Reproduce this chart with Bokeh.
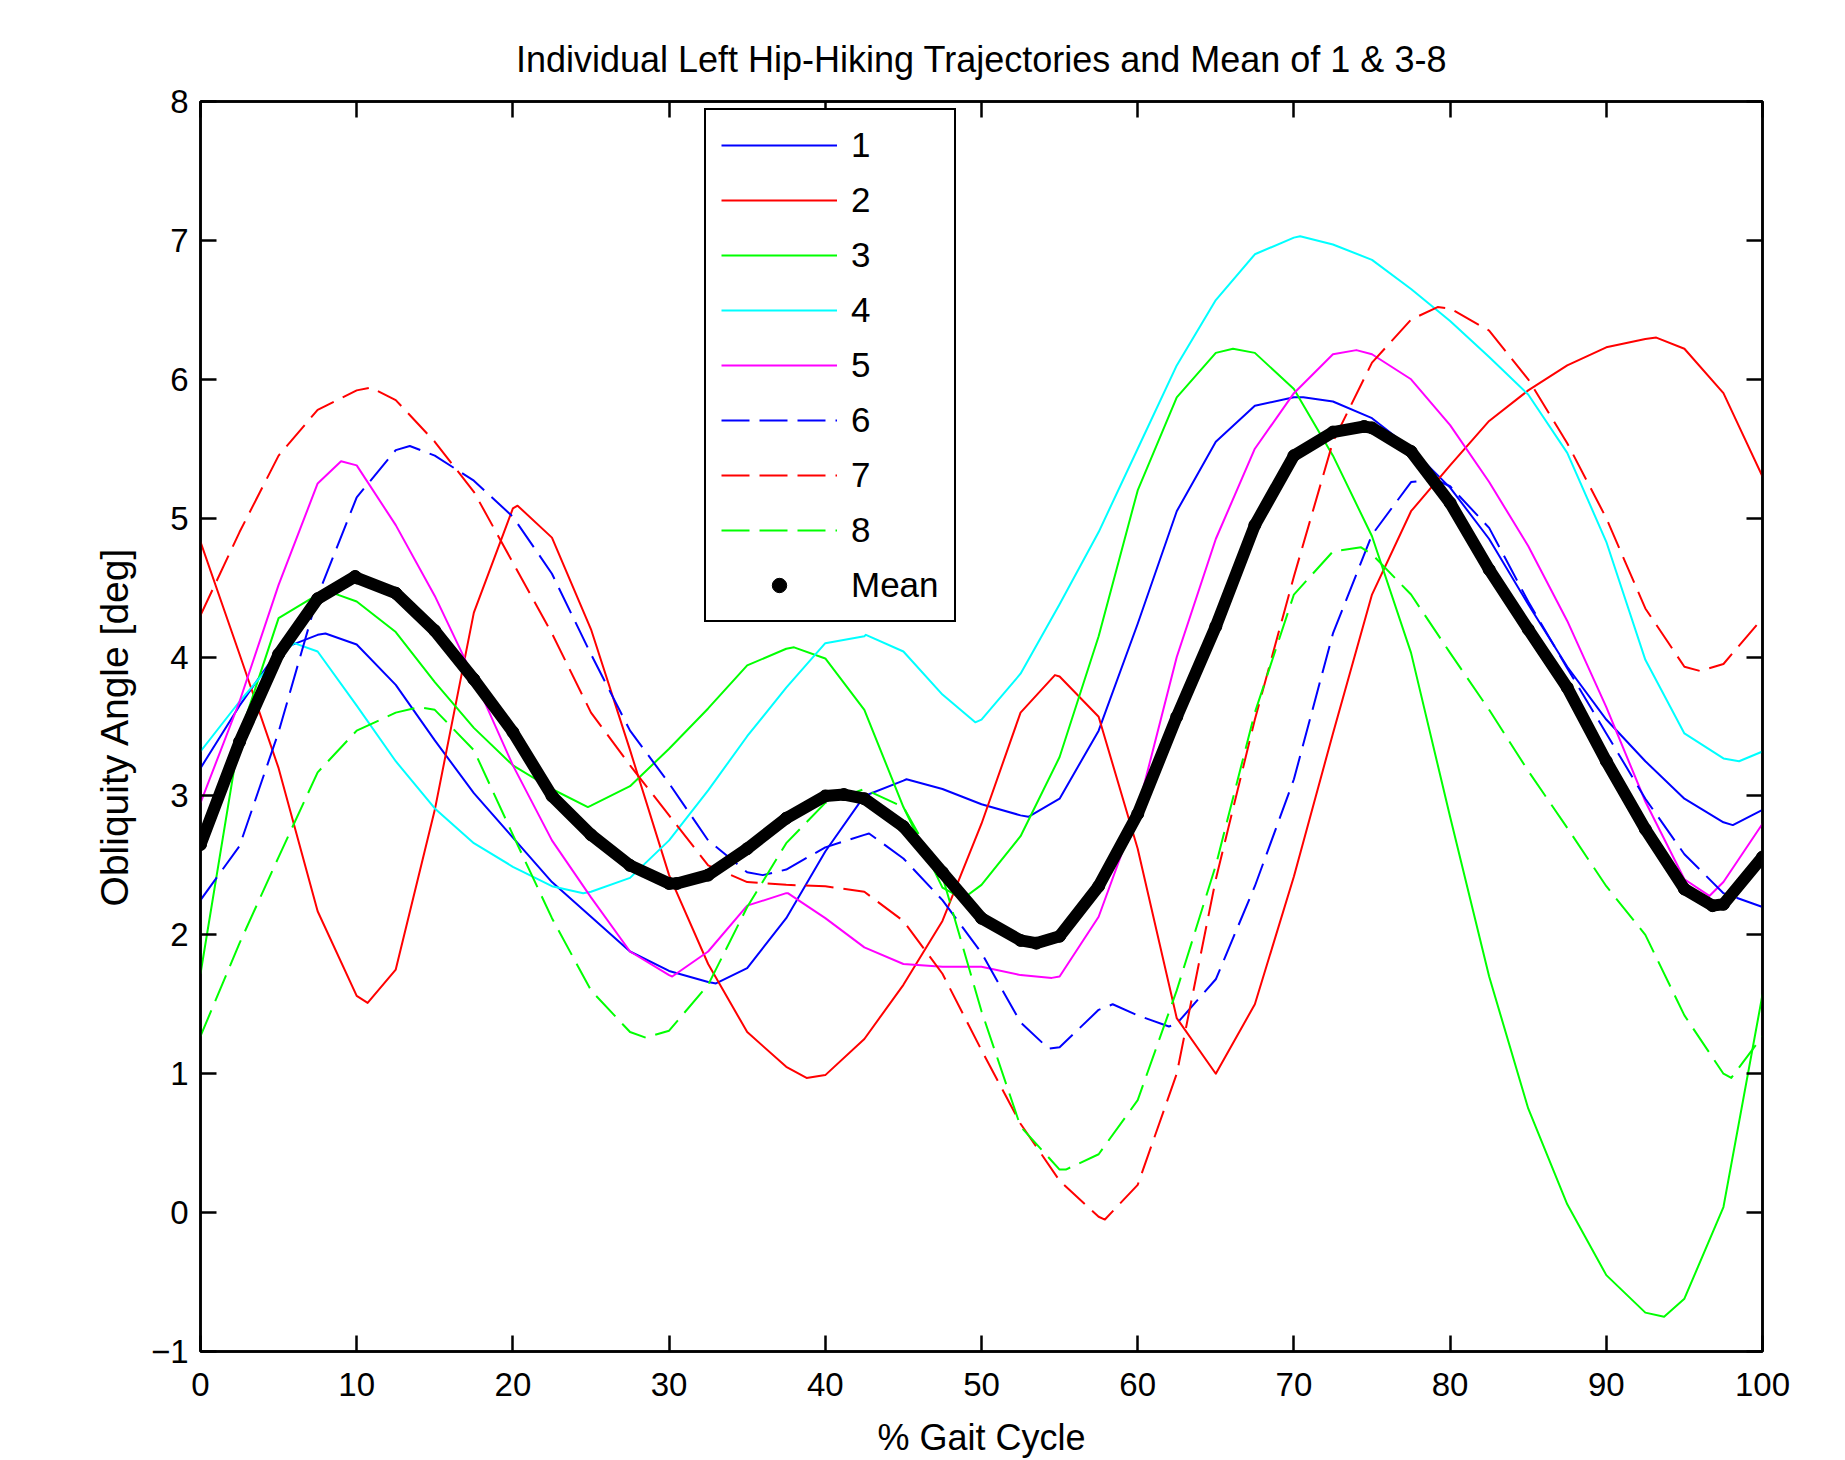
from bokeh.plotting import figure
from bokeh.models import Range1d, LinearAxis, FixedTicker, ColumnDataSource, Legend, LegendItem
from bokeh.embed import file_html
from bokeh.resources import INLINE

# % gait cycle sample positions (common grid)
gait = [0, 2.5, 5, 7.5, 10, 12.5, 15, 17.5, 20, 22.5, 25, 27.5, 30, 32.5, 35, 37.5,
        40, 42.5, 45, 47.5, 50, 52.5, 55, 57.5, 60, 62.5, 65, 67.5, 70, 72.5, 75, 77.5,
        80, 82.5, 85, 87.5, 90, 92.5, 95, 97.5, 100]

subj1 = [3.2, 3.65, 4.05, 4.16, 4.09, 3.8, 3.4, 3.02, 2.7, 2.38, 2.13, 1.88, 1.74, 1.66, 1.76, 2.12,
         2.6, 3.0, 3.11, 3.05, 2.94, 2.86, 2.98, 3.47, 4.24, 5.05, 5.55, 5.81, 5.87, 5.84, 5.72, 5.5,
         5.22, 4.85, 4.38, 3.93, 3.55, 3.25, 2.98, 2.81, 2.9]
subj2 = [4.83, 4.02, 3.2, 2.17, 1.56, 1.75, 2.9, 4.32, 5.07, 4.86, 4.2, 3.33, 2.43, 1.79, 1.3, 1.05,
         0.99, 1.25, 1.64, 2.1, 2.8, 3.6, 3.86, 3.57, 2.62, 1.4, 1.01, 1.5, 2.42, 3.45, 4.45, 5.05,
         5.38, 5.7, 5.92, 6.1, 6.23, 6.29, 6.22, 5.9, 5.3]
subj3 = [1.72, 3.43, 4.28, 4.45, 4.4, 4.18, 3.82, 3.49, 3.22, 3.05, 2.93, 3.07, 3.34, 3.63, 3.94, 4.06,
         3.99, 3.62, 2.92, 2.34, 2.36, 2.71, 3.28, 4.15, 5.2, 5.87, 6.19, 6.19, 5.93, 5.45, 4.87, 4.03,
         2.85, 1.7, 0.75, 0.06, -0.45, -0.72, -0.62, 0.04, 1.57]
subj4 = [3.32, 3.68, 4.01, 4.04, 3.65, 3.25, 2.91, 2.66, 2.49, 2.35, 2.31, 2.41, 2.68, 3.04, 3.43, 3.78,
         4.1, 4.15, 4.04, 3.73, 3.55, 3.88, 4.38, 4.9, 5.5, 6.1, 6.57, 6.9, 7.02, 6.97, 6.86, 6.65,
         6.42, 6.16, 5.89, 5.47, 4.83, 3.98, 3.45, 3.27, 3.32]
subj5 = [2.95, 3.68, 4.52, 5.25, 5.38, 4.95, 4.44, 3.85, 3.22, 2.68, 2.27, 1.88, 1.71, 1.88, 2.21, 2.3,
         2.12, 1.91, 1.79, 1.77, 1.77, 1.71, 1.7, 2.13, 2.9, 4.0, 4.85, 5.5, 5.9, 6.18, 6.18, 6.0,
         5.67, 5.26, 4.8, 4.26, 3.64, 2.96, 2.4, 2.38, 2.8]
subj6 = [2.25, 2.64, 3.46, 4.44, 5.15, 5.49, 5.45, 5.27, 5.01, 4.6, 4.02, 3.47, 3.09, 2.68, 2.45, 2.47,
         2.63, 2.72, 2.55, 2.25, 1.87, 1.37, 1.19, 1.46, 1.42, 1.36, 1.68, 2.35, 3.12, 4.17, 4.88, 5.26,
         5.23, 4.93, 4.4, 3.92, 3.45, 2.98, 2.58, 2.3, 2.2]
subj7 = [4.3, 4.9, 5.45, 5.78, 5.92, 5.85, 5.55, 5.19, 4.68, 4.17, 3.6, 3.22, 2.86, 2.5, 2.38, 2.36,
         2.35, 2.31, 2.1, 1.72, 1.17, 0.64, 0.23, -0.03, 0.2, 1.0, 2.4, 3.55, 4.58, 5.55, 6.12, 6.43,
         6.51, 6.35, 6.0, 5.54, 5.0, 4.35, 3.93, 3.95, 4.28]
subj8 = [1.27, 1.94, 2.56, 3.17, 3.47, 3.6, 3.62, 3.33, 2.72, 2.12, 1.6, 1.3, 1.31, 1.64, 2.2, 2.66,
         2.95, 3.04, 2.92, 2.42, 1.45, 0.62, 0.31, 0.42, 0.81, 1.6, 2.5, 3.6, 4.45, 4.76, 4.74, 4.45,
         4.03, 3.62, 3.18, 2.77, 2.35, 2.0, 1.42, 1.0, 1.27]
mean_curve = [2.65, 3.39, 4.02, 4.42, 4.57, 4.46, 4.19, 3.84, 3.46, 3.0, 2.72, 2.5, 2.37, 2.43, 2.62, 2.84,
              3.0, 2.98, 2.78, 2.45, 2.12, 1.96, 1.99, 2.35, 2.87, 3.57, 4.22, 4.95, 5.45, 5.62, 5.65, 5.48,
              5.11, 4.63, 4.2, 3.78, 3.25, 2.76, 2.33, 2.22, 2.56]

# extra readings taken at the turning points of each curve (x, value)
peaks1_x, peaks1_y = [8.0, 33.0, 45.2, 53.0, 70.6, 98.1], [4.17, 1.65, 3.12, 2.85, 5.87, 2.79]
peaks2_x, peaks2_y = [10.7, 20.3, 38.8, 54.7, 65.0, 93.2], [1.51, 5.09, 0.97, 3.87, 1.0, 6.3]
peaks3_x, peaks3_y = [8.5, 24.8, 38.0, 48.8, 66.1, 93.7], [4.46, 2.92, 4.07, 2.26, 6.22, -0.75]
peaks4_x, peaks4_y = [6.0, 24.5, 42.6, 49.6, 70.4, 98.5], [4.1, 2.3, 4.16, 3.53, 7.03, 3.25]
peaks5_x, peaks5_y = [9.0, 30.2, 37.6, 54.5, 74.0, 96.6], [5.41, 1.7, 2.3, 1.69, 6.21, 2.28]
peaks6_x, peaks6_y = [13.4, 36.0, 42.8, 54.3, 58.4, 62.0, 79.0], [5.52, 2.43, 2.73, 1.18, 1.5, 1.34, 5.28]
peaks7_x, peaks7_y = [10.9, 57.9, 79.2, 96.0], [5.94, -0.05, 6.52, 3.9]
peaks8_x, peaks8_y = [14.0, 28.5, 42.5, 55.4, 74.3, 98.0], [3.64, 1.26, 3.05, 0.31, 4.79, 0.97]
peaksm_x, peaksm_y = [9.9, 30.5, 41.2, 53.5, 74.5, 96.8], [4.58, 2.37, 3.01, 1.94, 5.66, 2.21]

series_names = ["1", "2", "3", "4", "5", "6", "7", "8"]
series_vals = [subj1, subj2, subj3, subj4, subj5, subj6, subj7, subj8]
series_peaks = [(peaks1_x, peaks1_y), (peaks2_x, peaks2_y), (peaks3_x, peaks3_y), (peaks4_x, peaks4_y),
                (peaks5_x, peaks5_y), (peaks6_x, peaks6_y), (peaks7_x, peaks7_y), (peaks8_x, peaks8_y)]
series_colors = ["#0000ff", "#ff0000", "#00ff00", "#00ffff", "#ff00ff", "#0000ff", "#ff0000", "#00ff00"]
series_dash = ["solid", "solid", "solid", "solid", "solid", "28 10", "28 10", "28 10"]

x_ticks = list(range(0, 101, 10))
y_ticks = list(range(-1, 9))


def merged(vals, px, py):
    """Combine the grid readings with the turning-point readings, ordered by x."""
    pts = {x: y for x, y in zip(gait, vals)}
    for x, y in zip(px, py):
        pts[x] = y
    xs = sorted(pts)
    return xs, [pts[x] for x in xs]


FONT = "Liberation Sans"
FRAME_W = 1562
FRAME_H = 1251

p = figure(width=200 + FRAME_W + 75, height=101 + FRAME_H + 108,
           output_backend="svg", toolbar_location=None,
           x_range=Range1d(0, 100), y_range=Range1d(-1, 8),
           min_border_left=200, min_border_right=75, min_border_top=101, min_border_bottom=108,
           title="Individual Left Hip-Hiking Trajectories and Mean of 1 & 3-8")
p.background_fill_color = "white"
p.border_fill_color = "white"
p.outline_line_color = "black"
p.outline_line_width = 2.5
p.xgrid.visible = False
p.ygrid.visible = False

p.title.align = "center"
p.title.text_font = FONT
p.title.text_font_size = "36px"
p.title.text_font_style = "normal"
p.title.text_color = "black"
p.title.standoff = 44


def style_axis(ax, labels=True):
    ax.axis_line_color = "black"
    ax.axis_line_width = 2.5
    ax.major_tick_line_color = "black"
    ax.major_tick_line_width = 2.5
    ax.major_tick_in = 16
    ax.major_tick_out = 0
    ax.minor_tick_line_color = None
    ax.major_label_text_font = FONT
    if labels:
        ax.major_label_text_color = "black"
        ax.major_label_text_font_size = "33px"
        ax.major_label_standoff = 12
    else:
        ax.major_label_text_color = None
        ax.major_label_text_font_size = "2px"
        ax.major_label_standoff = 0


xa = p.xaxis[0]
ya = p.yaxis[0]
xa.ticker = FixedTicker(ticks=x_ticks)
ya.ticker = FixedTicker(ticks=y_ticks)
style_axis(xa)
style_axis(ya)
xa.major_label_standoff = 21
xa.axis_label = "% Gait Cycle"
ya.axis_label = "Obliquity Angle [deg]"
for ax in (xa, ya):
    ax.axis_label_text_font = FONT
    ax.axis_label_text_font_style = "normal"
    ax.axis_label_text_color = "black"
xa.axis_label_text_font_size = "36px"
ya.axis_label_text_font_size = "39px"
xa.axis_label_standoff = 18
ya.axis_label_standoff = 12

top_ax = LinearAxis(ticker=FixedTicker(ticks=x_ticks))
right_ax = LinearAxis(ticker=FixedTicker(ticks=y_ticks))
style_axis(top_ax, labels=False)
style_axis(right_ax, labels=False)
p.add_layout(top_ax, "above")
p.add_layout(right_ax, "right")

items = []
for name, vals, (px, py), col, dash in zip(series_names, series_vals, series_peaks, series_colors, series_dash):
    xs, ys = merged(vals, px, py)
    src = ColumnDataSource(dict(x=xs, y=ys))
    r = p.line("x", "y", source=src, line_color=col, line_width=2, line_dash=dash, line_join="round")
    items.append(LegendItem(label=name, renderers=[r]))

mx, my = merged(mean_curve, peaksm_x, peaksm_y)
msrc = ColumnDataSource(dict(x=mx, y=my))
p.line("x", "y", source=msrc, line_color="black", line_width=12, line_join="round", line_cap="round")
mdots = p.scatter("x", "y", source=msrc, marker="circle", size=12, fill_color="black", line_color="black")
items.append(LegendItem(label="Mean", renderers=[mdots]))

legend = Legend(items=items, orientation="vertical")
legend.label_text_font = FONT
legend.label_text_font_size = "35px"
legend.label_text_color = "black"
legend.glyph_width = 116
legend.glyph_height = 36
legend.label_height = 36
legend.label_standoff = 14
legend.spacing = 15
legend.padding = 15
legend.margin = 0
legend.border_line_color = "black"
legend.border_line_alpha = 1.0
legend.border_line_width = 2.5
legend.background_fill_color = "white"
legend.background_fill_alpha = 1.0
legend.location = (504, FRAME_H - 12 - 506 - 4)
p.add_layout(legend, "center")

open("out.html", "w").write(file_html(p, INLINE))
